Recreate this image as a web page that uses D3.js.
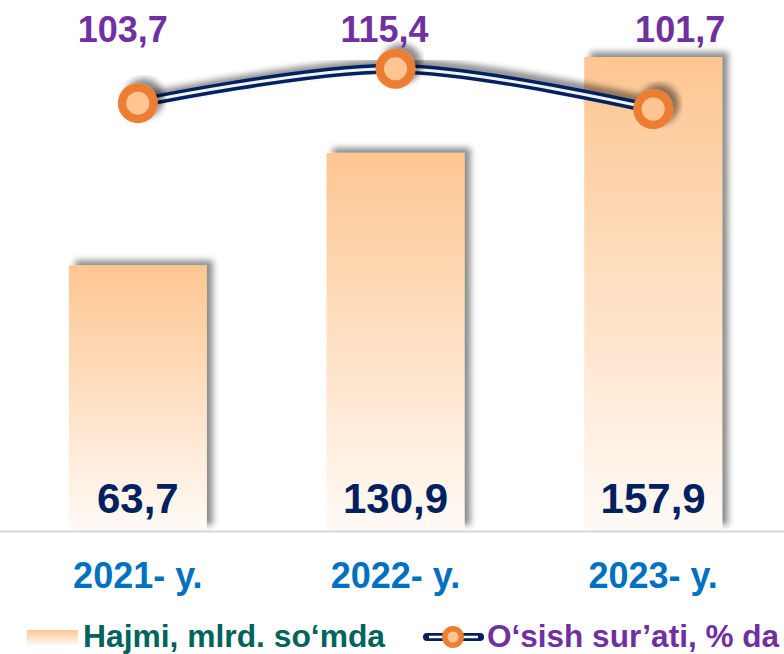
<!DOCTYPE html>
<html>
<head>
<meta charset="utf-8">
<script src="https://cdn.jsdelivr.net/npm/d3@7"></script>
<style>
  html, body { margin: 0; padding: 0; background: #fff; }
  svg { display: block; font-family: "Liberation Sans", Arial, sans-serif; font-weight: bold; }
</style>
</head>
<body>
<div id="chart"></div>
<script>
// data
var years = ["2021- y.", "2022- y.", "2023- y."];
var volume = [63.7, 130.9, 157.9];
var growth = [103.7, 115.4, 101.7];
var legendNames = ["Hajmi, mlrd. so\u2018mda", "O\u2018sish sur\u2019ati, % da"];

var width = 784, height = 654;
var baseY = 530;
var fmt = function(v) { return d3.format(".1f")(v).replace(".", ","); };

var svg = d3.select("#chart")
  .append("svg")
    .attr("width", width)
    .attr("height", height);

var defs = svg.append("defs");
var grad = defs.append("linearGradient")
    .attr("id", "barGrad")
    .attr("x1", 0).attr("y1", 0).attr("x2", 0).attr("y2", 1);
grad.append("stop").attr("offset", "0%").attr("stop-color", "#fdc691");
grad.append("stop").attr("offset", "100%").attr("stop-color", "#fffaf6");

var shadow = defs.append("filter")
    .attr("id", "shadow")
    .attr("x", "-20%").attr("y", "-20%").attr("width", "140%").attr("height", "140%");
shadow.append("feDropShadow")
    .attr("dx", 6).attr("dy", -5)
    .attr("stdDeviation", 3)
    .attr("flood-color", "#000")
    .attr("flood-opacity", 0.45);

var x = d3.scalePoint()
    .domain(years)
    .range([9, 782])
    .padding(0.5);
var barW = x.step() * 0.535;

// bar heights in the original are not proportional; a cubic scale follows them
var y = d3.scalePow()
    .exponent(3)
    .domain([0, 157.9])
    .range([280, 57]);

var yLine = d3.scaleLinear()
    .domain([100, 116])
    .range([114, 67]);

//axis line
svg.append("line")
    .attr("x1", 0).attr("x2", width)
    .attr("y1", baseY + 1.5).attr("y2", baseY + 1.5)
    .style("stroke", "#d9d9d9")
    .style("stroke-width", "2px");

//bars
svg.selectAll("rect.bar")
    .data(volume)
  .enter().append("rect")
    .attr("class", "bar")
    .attr("x", function(d, i) { return x(years[i]) - barW / 2; })
    .attr("y", function(d) { return y(d); })
    .attr("width", barW)
    .attr("height", function(d) { return baseY - y(d); })
    .style("fill", "url(#barGrad)")
    .attr("filter", "url(#shadow)");

//bar values
svg.selectAll("text.val")
    .data(volume)
  .enter().append("text")
    .attr("class", "val")
    .attr("x", function(d, i) { return x(years[i]); })
    .attr("y", baseY - 17)
    .attr("text-anchor", "middle")
    .style("fill", "#002060")
    .style("font-size", "42px")
    .text(function(d) { return fmt(d); });

//x labels
svg.selectAll("text.year")
    .data(years)
  .enter().append("text")
    .attr("class", "year")
    .attr("x", function(d) { return x(d); })
    .attr("y", 588)
    .attr("text-anchor", "middle")
    .style("fill", "#0070c0")
    .style("font-size", "36px")
    .text(function(d) { return d; });

//growth line
var pts = growth.map(function(d, i) { return [x(years[i]), yLine(d)]; });
var line = d3.line().curve(d3.curveCatmullRom.alpha(0.5));
var lg = svg.append("g").attr("filter", "url(#shadow)");
lg.append("path")
    .attr("d", line(pts))
    .style("fill", "none")
    .style("stroke", "#002060")
    .style("stroke-width", "10px");
lg.append("path")
    .attr("d", line(pts))
    .style("fill", "none")
    .style("stroke", "#f2f2f2")
    .style("stroke-width", "3px");

var mk = svg.selectAll("g.mk")
    .data(pts)
  .enter().append("g")
    .attr("class", "mk")
    .attr("filter", "url(#shadow)");
mk.append("circle")
    .attr("cx", function(d) { return d[0]; })
    .attr("cy", function(d) { return d[1]; })
    .attr("r", 20)
    .style("fill", "#ed7d31");
mk.append("circle")
    .attr("cx", function(d) { return d[0]; })
    .attr("cy", function(d) { return d[1]; })
    .attr("r", 11.5)
    .style("fill", "#fdc592");

//growth labels
var labelDx = [-15, -11, 27];
svg.selectAll("text.gr")
    .data(growth)
  .enter().append("text")
    .attr("class", "gr")
    .attr("x", function(d, i) { return x(years[i]) + labelDx[i]; })
    .attr("y", 42)
    .attr("text-anchor", "middle")
    .style("fill", "#7030a0")
    .style("font-size", "36px")
    .text(function(d) { return fmt(d); });

//legend
var legY = 647;
svg.append("rect")
    .attr("x", 27).attr("y", 630)
    .attr("width", 51).attr("height", 15)
    .style("fill", "url(#barGrad)");
svg.append("text")
    .attr("x", 83).attr("y", legY)
    .attr("textLength", 302)
    .attr("lengthAdjust", "spacingAndGlyphs")
    .style("fill", "#00635c")
    .style("font-size", "32px")
    .text(legendNames[0]);

svg.append("line")
    .attr("x1", 427).attr("x2", 480)
    .attr("y1", 637).attr("y2", 637)
    .attr("stroke-linecap", "round")
    .style("stroke", "#002060")
    .style("stroke-width", "8px");
svg.append("line")
    .attr("x1", 429).attr("x2", 478)
    .attr("y1", 637).attr("y2", 637)
    .style("stroke", "#ffffff")
    .style("stroke-width", "2.5px");
svg.append("circle")
    .attr("cx", 453).attr("cy", 637).attr("r", 11)
    .style("fill", "#ed7d31");
svg.append("circle")
    .attr("cx", 453).attr("cy", 637).attr("r", 5.5)
    .style("fill", "#fdc592");
svg.append("text")
    .attr("x", 487).attr("y", legY)
    .attr("textLength", 292)
    .attr("lengthAdjust", "spacingAndGlyphs")
    .style("fill", "#7030a0")
    .style("font-size", "32px")
    .text(legendNames[1]);
</script>
</body>
</html>
